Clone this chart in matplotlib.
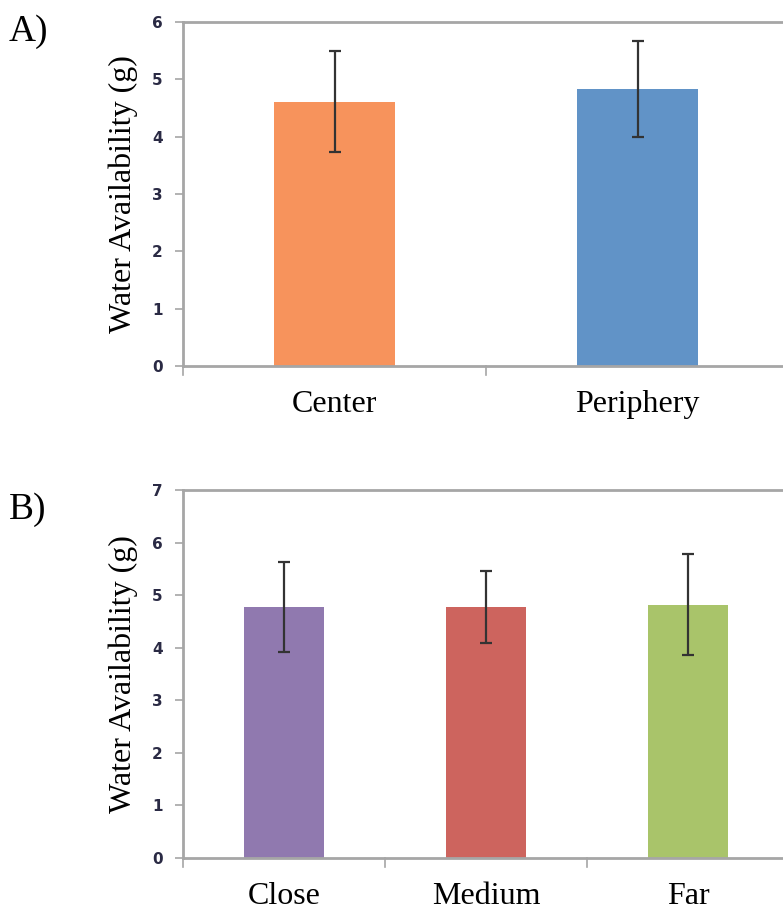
import matplotlib.pyplot as plt

# panel A
cats_a = ["Center", "Periphery"]
vals_a = [4.61, 4.83]
err_a = [0.88, 0.83]
cols_a = ["#F7935C", "#6193C7"]

# panel B
cats_b = ["Close", "Medium", "Far"]
vals_b = [4.77, 4.77, 4.82]
err_b = [0.86, 0.68, 0.96]
cols_b = ["#9079AF", "#CD645E", "#A9C46A"]

W, H = 783, 916
fig = plt.figure(figsize=(W / 100, H / 100), dpi=100)

serif = "Liberation Serif"
tickfont = ["Liberation Sans Narrow", "DejaVu Sans"]
grey = "#A6A6A6"


def panel(rect, cats, vals, errs, cols, ymax, letter, ly):
    ax = fig.add_axes(rect)
    n = len(cats)
    x = list(range(n))
    ax.bar(x, vals, width=0.40, color=cols, zorder=2)
    ax.errorbar(x, vals, yerr=errs, fmt="none", ecolor="#333333",
                elinewidth=1.6, capsize=4.5, capthick=1.6, zorder=3)
    # axis runs a little past the right edge of the picture
    ax.set_xlim(-0.5, -0.5 + n * (783 - 183) / (789 - 183))
    ax.set_ylim(0, ymax)
    ax.set_yticks(range(ymax + 1))
    ax.tick_params(axis="y", length=5.5, width=1.2, color=grey, pad=9)
    for t in ax.get_yticklabels():
        t.set_fontfamily(tickfont)
        t.set_fontsize(11)
        t.set_fontweight("bold")
        t.set_color("#2a2a44")
    ax.set_xticks(x)
    ax.set_xticklabels(cats, fontsize=23, fontfamily=serif)
    ax.tick_params(axis="x", length=0, pad=17)
    # category boundary ticks on the bottom axis
    for b in range(n):
        ax.plot([b - 0.5, b - 0.5], [0, -0.025 * ymax], color=grey, lw=1.2,
                clip_on=False)
    ax.spines["right"].set_visible(False)
    for s in ["left", "bottom", "top"]:
        ax.spines[s].set_color(grey)
        ax.spines[s].set_linewidth(2)
    ax.set_ylabel("Water Availability (g)", fontsize=23, fontfamily=serif,
                  labelpad=10)
    fig.text(9 / W, 1 - ly / H, letter, fontsize=27, fontfamily=serif,
             va="center", ha="left")
    return ax


panel([183 / W, 1 - 366 / H, 1 - 183 / W, (366 - 22) / H],
      cats_a, vals_a, err_a, cols_a, 6, "A)", 32)
panel([183 / W, 1 - 858 / H, 1 - 183 / W, (858 - 490) / H],
      cats_b, vals_b, err_b, cols_b, 7, "B)", 510)

fig.savefig("out.png", dpi=100)
